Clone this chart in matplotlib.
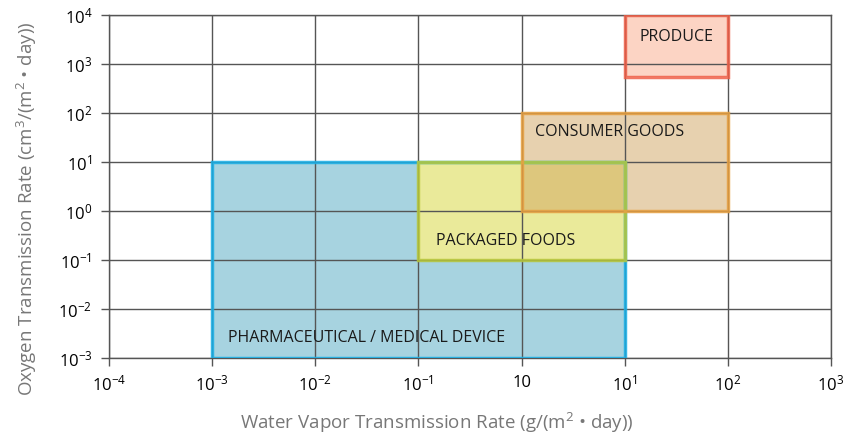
import matplotlib
matplotlib.use("Agg")
import matplotlib.pyplot as plt
from matplotlib.patches import Rectangle

plt.rcParams['font.family'] = ['Open Sans', 'DejaVu Sans']
plt.rcParams['mathtext.fontset'] = 'custom'
plt.rcParams['mathtext.rm'] = 'Open Sans'
plt.rcParams['mathtext.it'] = 'Open Sans'
plt.rcParams['mathtext.default'] = 'regular'

# regions: name, x range (WVTR), y range (OTR)
names = ["PHARMACEUTICAL / MEDICAL DEVICE", "PACKAGED FOODS", "CONSUMER GOODS", "PRODUCE"]
wvtr_lo = [1e-3, 1e-1, 1e0, 1e1]
wvtr_hi = [1e1, 1e1, 1e2, 1e2]
otr_lo = [1e-3, 1e-1, 1e0, 550]
otr_hi = [1e1, 1e1, 1e2, 1e4]
label_x = [1.43e-3, 0.148, 1.35, 32]
label_y = [2.6e-3, 0.25, 40, 3500]
label_ha = ["left", "left", "left", "center"]

x_ticks = [1e-4, 1e-3, 1e-2, 1e-1, 1e0, 1e1, 1e2, 1e3]
x_ticklabels = ["10$^{-4}$", "10$^{-3}$", "10$^{-2}$", "10$^{-1}$", "10", "10$^{1}$", "10$^{2}$", "10$^{3}$"]
y_ticks = [1e-3, 1e-2, 1e-1, 1e0, 1e1, 1e2, 1e3, 1e4]
y_ticklabels = ["10$^{-3}$", "10$^{-2}$", "10$^{-1}$", "10$^{0}$", "10$^{1}$", "10$^{2}$", "10$^{3}$", "10$^{4}$"]

fills = ["#a7d3e0", "#eaea9a", "#d1a561", "#fcd4c4"]
edges = ["#1ab0e8", "#b8c83a", "#e8a040", "#ef5f48"]
alphas = [1.0, 1.0, 0.5, 1.0]

fig = plt.figure(figsize=(8.46, 4.37), dpi=100)
ax = fig.add_axes([109 / 846, 1 - 358 / 437, (831 - 109) / 846, (358 - 15) / 437])
ax.set_xscale("log")
ax.set_yscale("log")
ax.set_xlim(1e-4, 1e3)
ax.set_ylim(1e-3, 1e4)

for i in range(len(names)):
    r = Rectangle((wvtr_lo[i], otr_lo[i]), wvtr_hi[i] - wvtr_lo[i], otr_hi[i] - otr_lo[i],
                  facecolor=fills[i], alpha=alphas[i], edgecolor="none", zorder=1)
    ax.add_patch(r)
    e = Rectangle((wvtr_lo[i], otr_lo[i]), wvtr_hi[i] - wvtr_lo[i], otr_hi[i] - otr_lo[i],
                  facecolor="none", edgecolor=edges[i], linewidth=2.5, alpha=0.85, zorder=3)
    ax.add_patch(e)
    ax.text(label_x[i], label_y[i], names[i], ha=label_ha[i], va="center",
            fontsize=11.5, color="#1a1a1a", zorder=4)

ax.set_xticks(x_ticks)
ax.set_xticklabels(x_ticklabels)
ax.set_yticks(y_ticks)
ax.set_yticklabels(y_ticklabels)
ax.minorticks_off()
ax.tick_params(axis="both", labelsize=12, length=6, color="#555555", width=1, pad=6)
ax.grid(True, color="#555555", linewidth=1)
ax.set_axisbelow(False)
for sp in ax.spines.values():
    sp.set_color("#555555")
    sp.set_linewidth(1)

ax.set_xlabel("Water Vapor Transmission Rate (g/(m$^{2}$ • day))", fontsize=13.5, color="#777777")
ax.set_ylabel("Oxygen Transmission Rate (cm$^{3}$/(m$^{2}$ • day))", fontsize=13.5, color="#777777")
ax.xaxis.set_label_coords(0.454, -0.155)
ax.yaxis.set_label_coords(-0.097, 0.436)

fig.savefig("out.png", dpi=100)
